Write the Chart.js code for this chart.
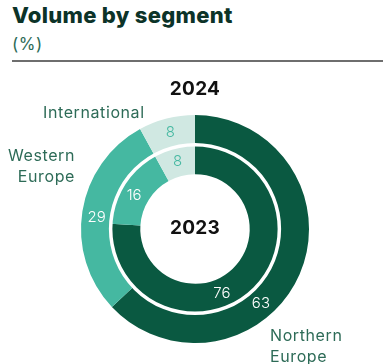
<!DOCTYPE html>
<html>
<head>
<meta charset="utf-8">
<script src="https://cdn.jsdelivr.net/npm/chart.js@4/dist/chart.umd.min.js"></script>
<style>
  html, body { margin: 0; padding: 0; background: #fff; }
  body { width: 383px; height: 364px; position: relative; overflow: hidden; font-family: Inter, 'Open Sans', sans-serif; }
  .title { position: absolute; left: 12px; top: 2px; font-size: 22px; font-weight: 800; color: #0c3328; letter-spacing: 0.3px; }
  .unit { position: absolute; left: 12px; top: 34px; font-size: 17px; color: #2d6b57; letter-spacing: 0.5px; }
  .rule { position: absolute; left: 12px; right: 0; top: 60px; height: 2px; background: #6e6e6e; }
  .year { position: absolute; font-size: 19px; font-weight: 700; color: #111; width: 80px; text-align: center; letter-spacing: 0.3px; }
  .cat { position: absolute; font-size: 16px; color: #2d6b57; line-height: 21px; font-weight: 400; letter-spacing: 0.6px; }
  #wrap { position: absolute; left: 0; top: 0; width: 383px; height: 364px; }
</style>
</head>
<body>
<div class="title">Volume by segment</div>
<div class="unit">(%)</div>
<div class="rule"></div>

<div id="wrap"><canvas id="donut" width="383" height="364"></canvas></div>

<div class="year" style="left:155px; top:77px;">2024</div>
<div class="year" style="left:155px; top:216px;">2023</div>
<div class="cat" style="left:43px; top:102px;">International</div>
<div class="cat" style="right:308px; top:145px; text-align:right;">Western<br>Europe</div>
<div class="cat" style="left:270px; top:325px;">Northern<br>Europe</div>

<script>
// ===== DATA =====
const segments = ['Northern Europe', 'Western Europe', 'International'];
const years = ['2024', '2023'];
const share2024 = [63, 29, 8];
const share2023 = [76, 16, 8];

// ===== STYLE =====
const SEG_COLORS = ['#0a5941', '#45b8a1', '#d0e8e2'];
const LABEL_COLORS = ['#ffffff', '#ffffff', '#45b8a1'];
// where along each arc the value sits (0 = start, 1 = end)
const LABEL_AT = [[0.61, 0.48, 0.5], [0.575, 0.44, 0.5]];

// white ring between the two years + the value labels
const ringLabels = {
  id: 'ringLabels',
  afterDatasetsDraw(chart) {
    const ctx = chart.ctx;
    const outer = chart.getDatasetMeta(0).data[0];
    ctx.save();
    ctx.beginPath();
    ctx.arc(outer.x, outer.y, outer.innerRadius, 0, Math.PI * 2);
    ctx.strokeStyle = '#ffffff';
    ctx.lineWidth = 3.5;
    ctx.stroke();

    ctx.font = '300 15px Inter, "Open Sans", sans-serif';
    ctx.textAlign = 'center';
    ctx.textBaseline = 'middle';
    chart.data.datasets.forEach((ds, di) => {
      chart.getDatasetMeta(di).data.forEach((arc, i) => {
        const a = arc.startAngle + (arc.endAngle - arc.startAngle) * LABEL_AT[di][i];
        const r = (arc.innerRadius + arc.outerRadius) / 2;
        ctx.fillStyle = LABEL_COLORS[i];
        ctx.fillText(String(ds.data[i]), arc.x + r * Math.cos(a), arc.y + r * Math.sin(a));
      });
    });
    ctx.restore();
  }
};

new Chart(document.getElementById('donut'), {
  type: 'doughnut',
  data: {
    labels: segments,
    datasets: [
      { label: years[0], data: share2024, backgroundColor: SEG_COLORS, borderWidth: 0, hoverOffset: 0 },
      { label: years[1], data: share2023, backgroundColor: SEG_COLORS, borderWidth: 0, hoverOffset: 0 }
    ]
  },
  options: {
    responsive: false,
    animation: false,
    cutout: '48%',
    layout: { padding: { left: 81, right: 74, top: 115, bottom: 21 } },
    plugins: {
      legend: { display: false },
      tooltip: { enabled: false }
    }
  },
  plugins: [ringLabels]
});
</script>
</body>
</html>
